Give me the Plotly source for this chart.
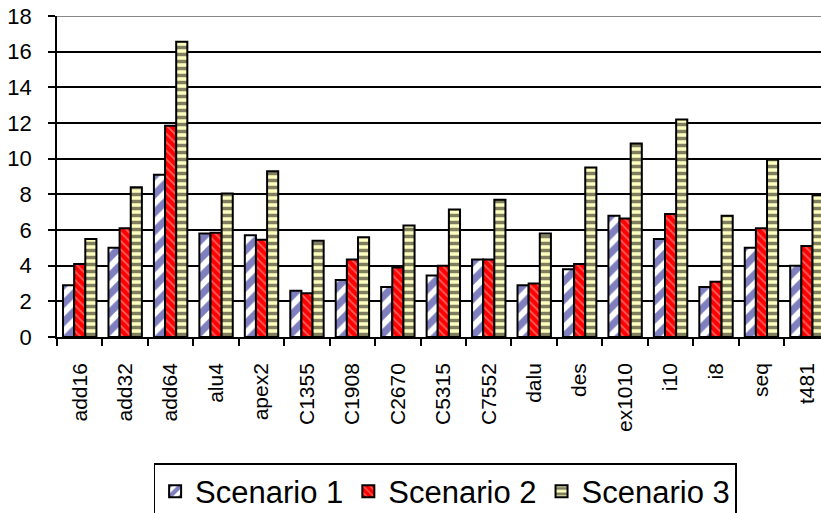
import plotly.graph_objects as go

# Benchmark circuits and the three scenario results
circuits = ["add16", "add32", "add64", "alu4", "apex2", "C1355", "C1908", "C2670",
            "C5315", "C7552", "dalu", "des", "ex1010", "i10", "i8", "seq", "t481"]
scenario1 = [2.9, 5.0, 9.1, 5.8, 5.7, 2.6, 3.2, 2.8, 3.45, 4.35, 2.9, 3.8, 6.8, 5.5, 2.8, 5.0, 4.0]
scenario2 = [4.1, 6.1, 11.85, 5.85, 5.45, 2.45, 4.35, 3.9, 4.0, 4.35, 3.0, 4.1, 6.65, 6.9, 3.1, 6.1, 5.1]
scenario3 = [5.5, 8.4, 16.55, 8.05, 9.3, 5.4, 5.6, 6.25, 7.15, 7.7, 5.8, 9.5, 10.85, 12.2, 6.8, 9.95, 7.95]

y_ticks = [0, 2, 4, 6, 8, 10, 12, 14, 16, 18]

FONT = "Liberation Sans, Arial, sans-serif"

series = [
    ("Scenario 1", scenario1, dict(shape="/", fgcolor="#000080", bgcolor="white", size=13, solidity=0.55)),
    ("Scenario 2", scenario2, dict(shape="\\", fgcolor="#FFC0C0", bgcolor="#FF0000", size=6, solidity=0.3)),
    ("Scenario 3", scenario3, dict(shape="-", fgcolor="black", bgcolor="#FFFFC0", size=7, solidity=0.5)),
]

fig = go.Figure()
for name, vals, pat in series:
    fig.add_trace(go.Bar(
        name=name, x=circuits, y=vals,
        marker=dict(color=pat["bgcolor"], pattern=pat,
                    line=dict(color="black", width=2)),
    ))

fig.update_layout(
    width=821, height=513,
    margin=dict(l=57, r=0, t=16, b=176),
    paper_bgcolor="white", plot_bgcolor="white",
    barmode="group", bargap=0.265, bargroupgap=0,
    font=dict(family=FONT, color="black"),
    showlegend=True,
    legend=dict(
        orientation="h", xref="paper", yref="container",
        x=0.508, xanchor="center", y=1 - 463 / 513, yanchor="top",
        font=dict(size=31, family=FONT, color="black"),
        bordercolor="black", borderwidth=1.5, bgcolor="white",
        traceorder="normal",
    ),
    xaxis=dict(
        type="category", range=[-0.5, 16.31],
        tickangle=-90, tickfont=dict(size=21, family=FONT, color="black"),
        showline=True, linecolor="black", linewidth=1.5,
        ticks="outside", ticklen=7, tickcolor="black", tickwidth=1.5,
        tickson="boundaries", showgrid=False, ticklabelstandoff=16,
    ),
    yaxis=dict(
        range=[0, 18], tickvals=y_ticks,
        tickfont=dict(size=22, family=FONT, color="black"),
        showline=True, linecolor="black", linewidth=1.5,
        ticks="outside", ticklen=7, tickcolor="black", tickwidth=1.5,
        showgrid=True, gridcolor="black", gridwidth=1.5,
        zeroline=False, ticklabelstandoff=12,
    ),
    shapes=[dict(type="line", xref="paper", yref="y", x0=0, x1=1, y0=18, y1=18,
                 line=dict(color="#888888", width=2), layer="above")],
)

fig.write_html("out.html")
